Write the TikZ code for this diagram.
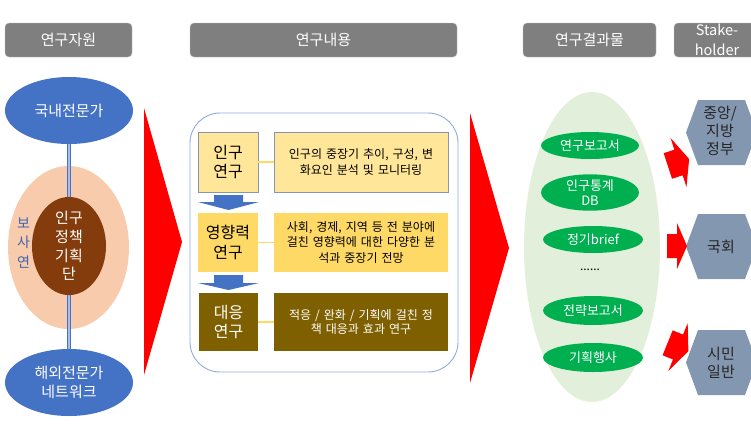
\documentclass[tikz,border=0pt]{standalone}
\usepackage{fontspec}
\setmainfont{Noto Sans CJK KR}
\usetikzlibrary{shapes.geometric}
\definecolor{hdr}{HTML}{7F7F7F}
\definecolor{hdrline}{HTML}{BFBFBF}
\definecolor{bblue}{HTML}{4472C4}
\definecolor{peach}{HTML}{F8CBAD}
\definecolor{brownc}{HTML}{843C0C}
\definecolor{bsblue}{HTML}{3F63AE}
\definecolor{frame}{HTML}{8FAADC}
\definecolor{ylight}{HTML}{FFE699}
\definecolor{ygold}{HTML}{FFD966}
\definecolor{olive}{HTML}{7F6000}
\definecolor{boxline}{HTML}{8497B0}
\definecolor{lgreen}{HTML}{E2EFDA}
\definecolor{ggreen}{HTML}{00B050}
\definecolor{hexc}{HTML}{8497B0}
\definecolor{dtext}{HTML}{262626}
\definecolor{dline}{HTML}{A9BDE6}
\begin{document}
\begin{tikzpicture}[x=1pt,y=-1pt,
  hdrbox/.style={rectangle, rounded corners=4pt, fill=hdr, draw=hdrline, text=white,
    font=\fontsize{15}{19}\selectfont, inner sep=0pt, minimum height=34pt, align=center},
  blueell/.style={ellipse, fill=bblue, text=white, inner sep=0pt, minimum width=128pt,
    minimum height=67pt, align=center, font=\fontsize{15}{19}\selectfont},
  labbox/.style={rectangle, inner sep=0pt, align=center, font=\fontsize{16}{19.5}\selectfont},
  descbox/.style={rectangle, inner sep=0pt, align=center, text width=166pt,
    font=\fontsize{12}{15.5}\selectfont},
  yline/.style={draw=ygold, line width=1.5pt},
  gell/.style={ellipse, fill=ggreen, text=white, inner sep=0pt, align=center,
    font=\fontsize{13}{15}\selectfont},
  hextext/.style={inner sep=0pt, align=center, text=dtext, font=\fontsize{15}{18}\selectfont},
  redarrow/.pic={\fill[red] (-10,-12) -- (0,-12) -- (0,-23) -- (10,0) -- (0,23) -- (0,12) -- (-10,12) -- cycle;}
]
\useasboundingbox (0,0) rectangle (751,434);
\clip (0,0) rectangle (751,434);

% headers
\node[hdrbox, minimum width=127pt] (h1) at (68.5,40) {연구자원};
\node[hdrbox, minimum width=267pt] (h2) at (323.5,40) {연구내용};
\node[hdrbox, minimum width=133pt] (h3) at (589.5,40) {연구결과물};
\node[hdrbox, minimum width=86pt, font=\fontsize{14.5}{19.5}\selectfont] (h4) at (717,40) {Stake-\\holder};

% left column
\node[blueell] (dom) at (69,110.5) {국내전문가};
\node[blueell] (abr) at (69,382.5) {해외전문가\\네트워크};
\node[ellipse, fill=peach, inner sep=0pt, minimum width=121pt, minimum height=163pt] (kihasa) at (68.5,247.5) {};
\draw[draw=bblue, line width=1pt, double=dline, double distance=1.2pt] (dom.south) -- (abr.north);
\node[ellipse, fill=brownc, text=white, inner sep=0pt, minimum width=74pt, minimum height=96pt,
  align=center, font=\fontsize{15}{18.7}\selectfont] (tf) at (69,246) {인구\\정책\\기획\\단};
\node[text=bsblue, align=center, inner sep=0pt, font=\fontsize{14}{19.5}\selectfont] (bsy) at (23.5,243) {보\\사\\연};

% big red arrows
\fill[red] (144,108) -- (182,242) -- (144,375) -- cycle;
\fill[red] (470,113) -- (509,248) -- (470,383) -- cycle;

% research content frame
\node[draw=frame, line width=0.9pt, rounded corners=30pt, minimum width=268pt, minimum height=259pt, inner sep=0pt] (frm) at (324,242.5) {};

\node[labbox, fill=ylight, draw=boxline, line width=0.6pt, minimum width=60pt, minimum height=60pt] (b1l) at (228,162) {인구\\연구};
\node[descbox, fill=ylight, draw=boxline, line width=0.6pt, minimum width=174pt, minimum height=60pt] (b1r) at (361,162) {인구의 중장기 추이, 구성, 변\\화요인 분석 및 모니터링};
\node[labbox, fill=ygold, minimum width=60pt, minimum height=59pt] (b2l) at (228,242.5) {영향력\\연구};
\node[descbox, fill=ygold, minimum width=174pt, minimum height=59pt] (b2r) at (361,242.5) {사회, 경제, 지역 등 전 분야에\\걸친 영향력에 대한 다양한 분\\석과 중장기 전망};
\node[labbox, fill=olive, text=white, minimum width=59pt, minimum height=58pt] (b3l) at (228.5,322) {대응\\연구};
\node[descbox, fill=olive, text=white, minimum width=174pt, minimum height=58pt, font=\fontsize{12}{14.5}\selectfont] (b3r) at (361,322) {적응 / 완화 / 기획에 걸친 정\\책 대응과 효과 연구};

\draw[yline] (b1l) -- (b1r);
\draw[yline] (b2l) -- (b2r);
\draw[yline] (b3l) -- (b3r);

% blue down arrows
\fill[bblue] (214,195) -- (243,195) -- (243,202) -- (259,202) -- (228.5,210) -- (198,202) -- (214,202) -- cycle;
\fill[bblue] (214,275) -- (243,275) -- (243,283) -- (259,283) -- (228.5,290) -- (198,283) -- (214,283) -- cycle;

% results
\node[ellipse, fill=lgreen, inner sep=0pt, minimum width=136pt, minimum height=310pt] (res) at (592,247) {};
\node[gell, minimum width=98pt, minimum height=27pt] (r1) at (590,145.5) {연구보고서};
\node[gell, minimum width=98pt, minimum height=29pt] (r2) at (590,192.5) {인구통계\\DB};
\node[gell, minimum width=100pt, minimum height=27pt] (r3) at (593,239.5) {정기brief};
\node[inner sep=0pt, font=\fontsize{12}{15}\selectfont] (r4) at (590,270) {......};
\node[gell, minimum width=100pt, minimum height=29pt] (r5) at (593,310.5) {전략보고서};
\node[gell, minimum width=100pt, minimum height=29pt] (r6) at (593,357.5) {기획행사};

% stakeholders
\fill[hexc] (686,132.5) -- (698,100) -- (745,100) -- (757,132.5) -- (745,165) -- (698,165) -- cycle;
\node[hextext] (s1) at (720,131) {중앙/\\지방\\정부};
\fill[hexc] (686,246.5) -- (698,214) -- (745,214) -- (757,246.5) -- (745,279) -- (698,279) -- cycle;
\node[hextext] (s2) at (721,246.5) {국회};
\fill[hexc] (686,362.5) -- (698,330) -- (745,330) -- (757,362.5) -- (745,395) -- (698,395) -- cycle;
\node[hextext] (s3) at (721,362.5) {시민\\일반};

% small red arrows
\path (678.5,162.5) pic[rotate=18, scale=1.12] {redarrow};
\path (677,246) pic {redarrow};
\path (678,347) pic[rotate=-22, scale=1.12] {redarrow};
\end{tikzpicture}
\end{document}
